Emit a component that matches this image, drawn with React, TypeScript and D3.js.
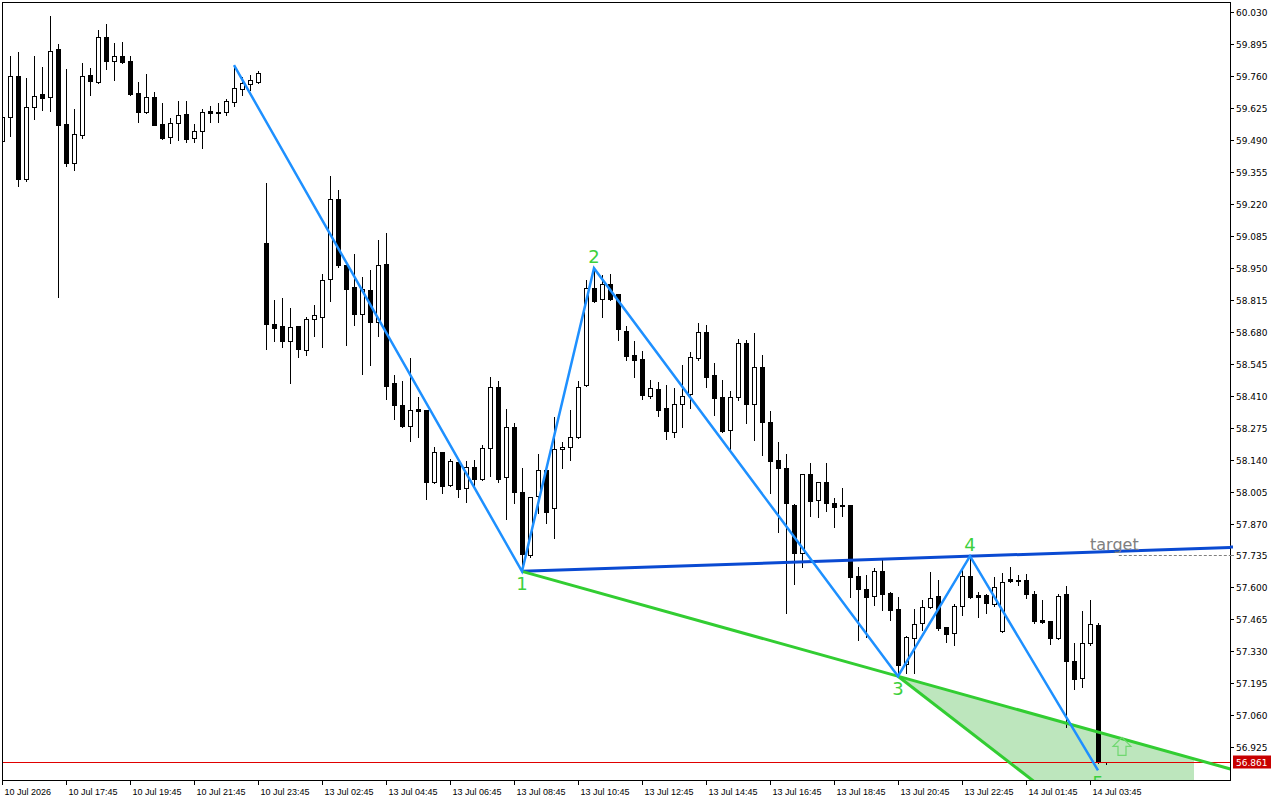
import React from "react";
import * as d3 from "d3";

// ---- data (15-minute candles, index 0 = 10 Jul 15:45) ----
const opens = [59.485,59.586,59.759,59.324,59.628,59.683,59.671,59.874,59.557,59.392,59.510,59.764,59.734,59.924,59.823,59.844,59.823,59.688,59.608,59.671,59.557,59.502,59.561,59.599,59.498,59.527,59.612,59.608,59.608,59.650,59.705,59.726,59.734,59.054,58.712,58.703,58.640,58.703,58.602,58.733,58.741,58.902,59.240,58.961,58.868,58.754,58.855,58.720,58.965,58.463,58.370,58.281,58.353,58.349,58.044,58.171,58.032,58.129,58.019,58.108,58.057,58.188,58.446,58.065,58.277,58.002,57.736,57.985,58.095,57.934,58.184,58.192,58.234,58.454,58.864,58.817,58.881,58.839,58.682,58.581,58.564,58.408,58.437,58.357,58.256,58.374,58.416,58.568,58.678,58.497,58.403,58.264,58.403,58.632,58.374,58.530,58.298,58.138,58.104,57.947,57.744,58.078,57.968,58.044,57.955,57.947,57.947,57.647,57.592,57.563,57.668,57.575,57.508,57.276,57.386,57.449,57.516,57.563,57.432,57.407,57.521,57.647,57.567,57.567,57.529,57.415,57.634,57.630,57.630,57.571,57.461,57.457,57.386,57.571,57.288,57.216,57.364,57.440,56.861];
const highs = [59.616,59.844,59.861,59.751,59.844,59.797,60.013,59.895,59.789,59.620,59.815,59.793,59.954,59.979,59.899,59.903,59.844,59.734,59.768,59.692,59.646,59.582,59.654,59.654,59.557,59.620,59.633,59.646,59.663,59.806,59.755,59.764,59.781,59.308,58.813,58.822,58.780,58.705,58.741,58.792,58.923,59.337,59.278,58.963,59.007,58.910,58.940,59.067,59.096,58.497,58.471,58.568,58.404,58.351,58.192,58.173,58.142,58.131,58.133,58.138,58.201,58.488,58.471,58.353,58.294,58.104,57.983,58.163,58.097,58.319,58.213,58.349,58.471,58.898,58.948,58.919,58.923,58.841,58.703,58.640,58.598,58.475,58.467,58.454,58.441,58.539,58.594,58.716,58.708,58.547,58.475,58.429,58.649,58.644,58.674,58.581,58.345,58.213,58.163,57.951,58.080,58.125,58.046,58.125,57.977,58.019,57.949,57.685,57.652,57.681,57.715,57.580,57.558,57.394,57.508,57.546,57.664,57.630,57.434,57.529,57.685,57.732,57.580,57.571,57.643,57.660,57.685,57.652,57.656,57.584,57.546,57.459,57.571,57.605,57.364,57.500,57.546,57.449,56.861];
const lows = [59.464,59.506,59.295,59.316,59.578,59.616,59.612,58.826,59.380,59.363,59.498,59.679,59.730,59.789,59.743,59.815,59.681,59.565,59.603,59.551,59.493,59.477,59.489,59.481,59.481,59.455,59.565,59.565,59.595,59.633,59.679,59.700,59.732,58.606,58.640,58.615,58.463,58.573,58.581,58.661,58.615,58.809,58.953,58.623,58.707,58.501,58.539,58.661,58.395,58.311,58.279,58.218,58.235,57.972,58.042,57.998,58.027,57.981,57.960,58.032,58.055,58.070,58.044,57.888,57.956,57.668,57.727,57.913,57.871,57.808,58.104,58.138,58.232,58.452,58.807,58.741,58.815,58.644,58.560,58.488,58.395,58.399,58.323,58.226,58.235,58.277,58.357,58.560,58.446,58.327,58.256,58.180,58.391,58.294,58.222,58.159,57.998,57.833,57.491,57.613,57.685,57.901,57.896,57.922,57.854,57.901,57.558,57.377,57.390,57.525,57.504,57.462,57.225,57.237,57.237,57.419,57.514,57.419,57.368,57.356,57.483,57.554,57.474,57.491,57.521,57.413,57.624,57.609,57.554,57.449,57.449,57.360,57.384,57.009,57.170,57.178,57.356,56.858,56.853];
const closes = [59.586,59.759,59.324,59.628,59.675,59.667,59.865,59.553,59.392,59.514,59.759,59.738,59.924,59.823,59.844,59.819,59.683,59.608,59.671,59.553,59.498,59.561,59.595,59.493,59.527,59.608,59.603,59.604,59.654,59.709,59.730,59.743,59.772,58.712,58.695,58.640,58.699,58.606,58.733,58.750,58.898,59.240,58.961,58.860,58.754,58.860,58.720,58.961,58.450,58.370,58.281,58.349,58.345,58.044,58.171,58.027,58.133,58.015,58.108,58.057,58.188,58.446,58.057,58.277,58.002,57.740,57.981,58.095,57.918,58.184,58.192,58.234,58.446,58.864,58.809,58.881,58.817,58.691,58.577,58.560,58.412,58.441,58.349,58.260,58.374,58.408,58.573,58.678,58.488,58.399,58.260,58.403,58.632,58.374,58.530,58.298,58.133,58.104,57.955,57.744,58.078,57.964,58.044,57.955,57.938,57.943,57.643,57.592,57.558,57.668,57.571,57.504,57.271,57.390,57.445,57.516,57.554,57.428,57.402,57.521,57.647,57.558,57.558,57.533,57.601,57.622,57.626,57.626,57.571,57.457,57.453,57.386,57.563,57.288,57.212,57.364,57.445,56.865,56.861];

// time axis labels (bar index -> text)
const timeTickBars = [0,8,16,24,32,40,48,56,64,72,80,88,96,104,112,120,128,136];
const timeTickLabels = ["10 Jul 2026","10 Jul 17:45","10 Jul 19:45","10 Jul 21:45","10 Jul 23:45","13 Jul 02:45","13 Jul 04:45","13 Jul 06:45","13 Jul 08:45","13 Jul 10:45","13 Jul 12:45","13 Jul 14:45","13 Jul 16:45","13 Jul 18:45","13 Jul 20:45","13 Jul 22:45","14 Jul 01:45","14 Jul 03:45"];

// price axis labels
const priceTicks = [60.030,59.895,59.760,59.625,59.490,59.355,59.220,59.085,58.950,58.815,58.680,58.545,58.410,58.275,58.140,58.005,57.870,57.735,57.600,57.465,57.330,57.195,57.060,56.925];

// wave pattern (bar index, price, label)
const waveBars = [29, 65, 74, 112, 121, 137];
const wavePrices = [59.806, 57.668, 58.948, 57.225, 57.732, 56.828];
const waveLabels = ["", "1", "2", "3", "4", "5"];
const waveIsHigh = [true, false, true, false, true, false];

// extra objects
const steepLine = { bar: 128, price: 56.807 }; // second point of line from wave point 3
const fillEndBar = 149;
const targetPrice = 57.736;
const targetTextBar = 136;
const targetLineStartBar = 139.6;
const bidPrice = 56.861;
const arrowBar = 140;
const arrowPrice = 56.967;

const W = 1280, H = 800;
const L = 2, T = 2, R = 1230, B = 780;

export default function App() {
  const x = d3.scaleLinear().domain([0, 1]).range([2, 10]);
  const y = d3.scaleLinear().domain([56.925, 60.030]).range([747.3, 12]);

  const candles = opens.map((o, i) => {
    const c = closes[i], h = highs[i], l = lows[i];
    const cx = Math.round(x(i));
    const top = Math.round(y(Math.max(o, c)));
    const bot = Math.round(y(Math.min(o, c)));
    const yh = Math.round(y(h)), yl = Math.round(y(l));
    const bull = c > o;
    return (
      <g key={i}>
        <line x1={cx + 0.5} x2={cx + 0.5} y1={yh} y2={yl + 1} stroke="#000" strokeWidth={1} />
        {bull ? (
          <rect x={cx - 1.5} y={top + 0.5} width={4} height={Math.max(bot - top, 1)} fill="#fff" stroke="#000" strokeWidth={1} />
        ) : (
          <rect x={cx - 2} y={top} width={5} height={Math.max(bot - top + 1, 1)} fill="#000" />
        )}
      </g>
    );
  });

  const pts = waveBars.map((b, i) => [x(b), y(wavePrices[i])] as [number, number]);
  const line = d3.line<[number, number]>();

  const extend = (p1: [number, number], p2: [number, number], xe: number): [number, number] => {
    const s = (p2[1] - p1[1]) / (p2[0] - p1[0]);
    return [xe, p1[1] + s * (xe - p1[0])];
  };

  const p1 = pts[1], p3 = pts[3], p4 = pts[4];
  const blueEnd = extend(p1, p4, R + 2);
  const greenEnd = extend(p1, p3, R + 2);
  const sp: [number, number] = [x(steepLine.bar), y(steepLine.price)];
  const steepSlope = (sp[1] - p3[1]) / (sp[0] - p3[0]);
  const steepEnd: [number, number] = [p3[0] + (820 - p3[1]) / steepSlope, 820];
  const fx = x(fillEndBar);
  const fillPoly: [number, number][] = [p3, extend(p1, p3, fx), [fx, 820], steepEnd];

  const yT = Math.round(y(targetPrice)) + 0.5;
  const yBid = Math.round(y(bidPrice)) + 0.5;
  const ax = x(arrowBar), ay = y(arrowPrice);

  return (
    <svg width={W} height={H} style={{ position: "fixed", left: 0, top: 0, background: "#fff" }}
      fontFamily="'DejaVu Sans', sans-serif">
      <defs>
        <clipPath id="plot"><rect x={L + 1} y={T + 1} width={R - L - 1} height={B - T - 1} /></clipPath>
      </defs>
      <rect x={0} y={0} width={W} height={H} fill="#fff" />
      <g clipPath="url(#plot)">
        <path d={line(fillPoly) + "Z"} fill="#bde6bd" />
        {candles}
        <line x1={L} x2={R} y1={yBid} y2={yBid} stroke="#e00000" strokeWidth={1} />
        <path d={line([p1, blueEnd])!} stroke="#0a4ad2" strokeWidth={3} fill="none" />
        <path d={line([p1, greenEnd])!} stroke="#32cd32" strokeWidth={3} fill="none" />
        <path d={line([p3, steepEnd])!} stroke="#32cd32" strokeWidth={3} fill="none" />
        <path d={line(pts)!} stroke="#1e90ff" strokeWidth={2.5} fill="none" strokeLinejoin="miter" />
        <line x1={x(targetLineStartBar)} x2={R} y1={yT} y2={yT} stroke="#808080" strokeWidth={1} strokeDasharray="3,2" />
        <text x={x(targetTextBar)} y={y(targetPrice) - 5} fontSize={16} fill="#808080">target</text>
        {pts.map((p, i) => waveLabels[i] ? (
          <text key={i} x={p[0]} y={waveIsHigh[i] ? p[1] - 5 : p[1] + 19} textAnchor="middle" fontSize={18} fill="#3cd03c">{waveLabels[i]}</text>
        ) : null)}
        <path d={`M${ax},${ay} L${ax + 9},${ay + 9} L${ax + 4},${ay + 9} L${ax + 4},${ay + 18} L${ax - 4},${ay + 18} L${ax - 4},${ay + 9} L${ax - 9},${ay + 9} Z`}
          fill="none" stroke="#6fd86f" strokeWidth={1.2} />
      </g>
      {/* frame */}
      <rect x={L + 0.5} y={T + 0.5} width={R - L} height={B - T} fill="none" stroke="#000" strokeWidth={1} />
      {/* price axis */}
      {priceTicks.map((p, i) => {
        const yy = Math.round(y(p)) + 0.5;
        return (
          <g key={i}>
            <line x1={R} x2={R + 4} y1={yy} y2={yy} stroke="#000" />
            <text x={R + 6} y={yy} dy="0.35em" fontSize={9} fill="#000">{p.toFixed(3)}</text>
          </g>
        );
      })}
      <line x1={R} x2={R + 4} y1={yT} y2={yT} stroke="#808080" />
      <line x1={R} x2={R + 3} y1={Math.round(blueEnd[1])} y2={Math.round(blueEnd[1])} stroke="#0a4ad2" strokeWidth={3} />
      <rect x={R + 3} y={yBid - 7} width={38} height={13} fill="#c80000" />
      <text x={R + 6} y={yBid} dy="0.35em" fontSize={9} fill="#fff">{bidPrice.toFixed(3)}</text>
      {/* time axis */}
      {timeTickBars.map((b, i) => {
        const xx = Math.round(x(b)) + 0.5;
        return (
          <g key={i}>
            <line x1={xx} x2={xx} y1={B} y2={B + 5} stroke="#000" />
            <text x={xx + 2} y={B + 15} fontSize={9} fontFamily="'Liberation Sans', Arial, sans-serif" fill="#000">{timeTickLabels[i]}</text>
          </g>
        );
      })}
    </svg>
  );
}
